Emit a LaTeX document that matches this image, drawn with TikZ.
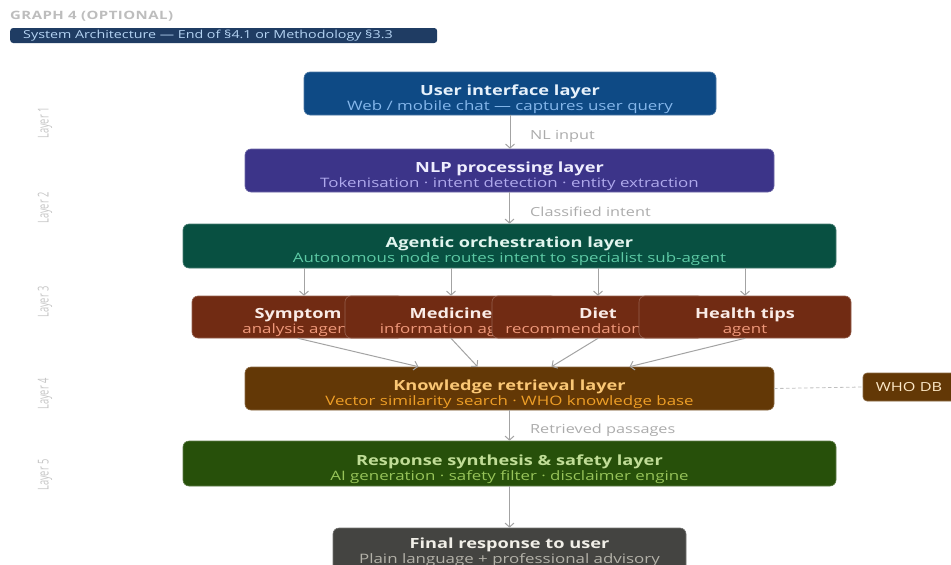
\documentclass[tikz,border=0pt]{standalone}
\usepackage{fontspec}
\setmainfont{Open Sans}[FakeStretch=1.3]
\newfontfamily\condfont[FakeStretch=0.62]{Open Sans}
\usetikzlibrary{arrows.meta,calc}

\definecolor{bannerBg}{HTML}{1F3C63}
\definecolor{bannerTx}{HTML}{B5D4F4}
\definecolor{headGray}{HTML}{BDBDBD}
\definecolor{tierGray}{HTML}{C6C6C6}
\definecolor{lblGray}{HTML}{ABABAB}
\definecolor{arrGray}{HTML}{A3A3A3}
\definecolor{uiBg}{HTML}{0E4A85}
\definecolor{uiT}{HTML}{E6F1FB}
\definecolor{uiS}{HTML}{85B7EB}
\definecolor{nlpBg}{HTML}{3C3489}
\definecolor{nlpT}{HTML}{EEEDFE}
\definecolor{nlpS}{HTML}{AFA9EC}
\definecolor{agtBg}{HTML}{085041}
\definecolor{agtT}{HTML}{E1F5EE}
\definecolor{agtS}{HTML}{5DCAA5}
\definecolor{subBg}{HTML}{712B13}
\definecolor{subT}{HTML}{FAECE7}
\definecolor{subS}{HTML}{F0997B}
\definecolor{kbBg}{HTML}{633806}
\definecolor{kbT}{HTML}{FAC775}
\definecolor{kbS}{HTML}{EF9F27}
\definecolor{resBg}{HTML}{27500A}
\definecolor{resT}{HTML}{C0DD97}
\definecolor{resS}{HTML}{97C459}
\definecolor{finBg}{HTML}{444441}
\definecolor{finT}{HTML}{F1EFE8}
\definecolor{finS}{HTML}{B4B2A9}

\begin{document}
\begin{tikzpicture}[x=1pt, y=-1pt, line cap=round, line join=round,
    box/.style={rounded corners=6pt, inner sep=0pt, align=center, line width=0.6pt,
      font=\fontsize{13}{15}\selectfont},
    layer/.style={box, execute at begin node={\rule{0pt}{#1}}},
    layer/.default=36.5pt,
    subagent/.style={layer, minimum width=212pt, minimum height=42pt,
      fill=subBg, draw=subBg!75!white},
    arr/.style={line width=1pt, draw=arrGray, -{Straight Barb[length=4pt,width=9pt]}},
    lbl/.style={anchor=west, text=lblGray, inner sep=0pt, font=\fontsize{12.5}{14}\selectfont},
    tier/.style={rotate=90, text=tierGray, inner sep=0pt, font=\condfont\fontsize{15}{17}\selectfont}]
  \useasboundingbox (0,0) rectangle (951,565);
  % heading and banner
  \node[anchor=west, inner sep=0pt, text=headGray,
    font=\bfseries\fontsize{11.5}{13}\selectfont\addfontfeatures{LetterSpace=4}] (head) at (10,16) {GRAPH 4 (OPTIONAL)};
  \node[anchor=west, fill=bannerBg, rounded corners=3pt, minimum height=15pt, inner xsep=13pt, inner ysep=0pt,
    text width=401pt, align=left, text=bannerTx, font=\fontsize{11}{13}\selectfont] (banner) at (10,35.5)
    {System Architecture — End of §4.1 or Methodology §3.3};
  % layer tags
  \node[tier] (t1) at (45,123) {Layer 1};
  \node[tier] (t2) at (45,208) {Layer 2};
  \node[tier] (t3) at (45,302) {Layer 3};
  \node[tier] (t4) at (45,394) {Layer 4};
  \node[tier] (t5) at (45,475) {Layer 5};
  % main layers
  \node[layer, minimum width=412pt, minimum height=43pt, fill=uiBg, draw=uiBg!75!white] (ui) at (510,93.5)
    {{\color{uiT}\bfseries\fontsize{14}{15}\selectfont User interface layer}\\\color{uiS}Web / mobile chat — captures user query};
  \node[layer, minimum width=529pt, minimum height=43pt, fill=nlpBg, draw=nlpBg!75!white] (nlp) at (509.5,170.5)
    {{\color{nlpT}\bfseries\fontsize{14}{15}\selectfont NLP processing layer}\\\color{nlpS}Tokenisation · intent detection · entity extraction};
  \node[layer, minimum width=653pt, minimum height=44pt, fill=agtBg, draw=agtBg!75!white] (agt) at (509.5,246)
    {{\color{agtT}\bfseries\fontsize{14}{15}\selectfont Agentic orchestration layer}\\\color{agtS}Autonomous node routes intent to specialist sub-agent};
  % sub-agents, each one laid over the one before
  \node[subagent] (sym) at (298,317)
    {{\color{subT}\bfseries\fontsize{14}{15}\selectfont Symptom}\\\color{subS}analysis agent};
  \node[subagent] (med) at (451,317)
    {{\color{subT}\bfseries\fontsize{14}{15}\selectfont Medicine}\\\color{subS}information agent};
  \node[subagent] (diet) at (598,317)
    {{\color{subT}\bfseries\fontsize{14}{15}\selectfont Diet}\\\color{subS}recommendation agent};
  \node[subagent] (tips) at (745,317)
    {{\color{subT}\bfseries\fontsize{14}{15}\selectfont Health tips}\\\color{subS}agent};
  \node[layer, minimum width=529pt, minimum height=43pt, fill=kbBg, draw=kbBg!75!white] (kb) at (509.5,388.5)
    {{\color{kbT}\bfseries\fontsize{14}{15}\selectfont Knowledge retrieval layer}\\\color{kbS}Vector similarity search · WHO knowledge base};
  \node[box, minimum width=92pt, minimum height=28pt, rounded corners=4pt, fill=kbBg, draw=kbBg!75!white,
    text=kbT!40!white, font=\fontsize{12.5}{14}\selectfont] (who) at (909,387) {WHO DB};
  \node[layer, minimum width=653pt, minimum height=45pt, fill=resBg, draw=resBg!75!white] (res) at (509.5,463.5)
    {{\color{resT}\bfseries\fontsize{14}{15}\selectfont Response synthesis \& safety layer}\\\color{resS}AI generation · safety filter · disclaimer engine};
  \node[layer=30.5pt, minimum width=353pt, minimum height=44pt, fill=finBg, draw=finBg!75!white] (fin) at (509.5,550)
    {{\color{finT}\bfseries\fontsize{14}{15}\selectfont Final response to user}\\\color{finS}Plain language + professional advisory};
  % connectors
  \draw[arr] (ui.south) -- (ui.south |- nlp.north);
  \node[lbl] (nlin) at (530,136) {NL input};
  \draw[arr] (nlp.south) -- (nlp.south |- agt.north);
  \node[lbl] (clin) at (530,212) {Classified intent};
  \draw[arr] ([xshift=6pt]sym.north |- agt.south) -- ([xshift=6pt]sym.north);
  \draw[arr] (med.north |- agt.south) -- (med.north);
  \draw[arr] (diet.north |- agt.south) -- (diet.north);
  \draw[arr] (tips.north |- agt.south) -- (tips.north);
  \draw[arr] (sym.south) -- ([xshift=-91pt]kb.north);
  \draw[arr] (med.south) -- ([xshift=-32pt]kb.north);
  \draw[arr] (diet.south) -- ([xshift=42pt]kb.north);
  \draw[arr] (tips.south) -- ([xshift=120pt]kb.north);
  \draw[draw=arrGray!70!white, line width=0.8pt, dashed] (kb.east) -- (who.west);
  \draw[arr] (kb.south) -- (kb.south |- res.north);
  \node[lbl] (rpin) at (530,430) {Retrieved passages};
  \draw[arr] (res.south) -- (res.south |- fin.north);
\end{tikzpicture}
\end{document}
